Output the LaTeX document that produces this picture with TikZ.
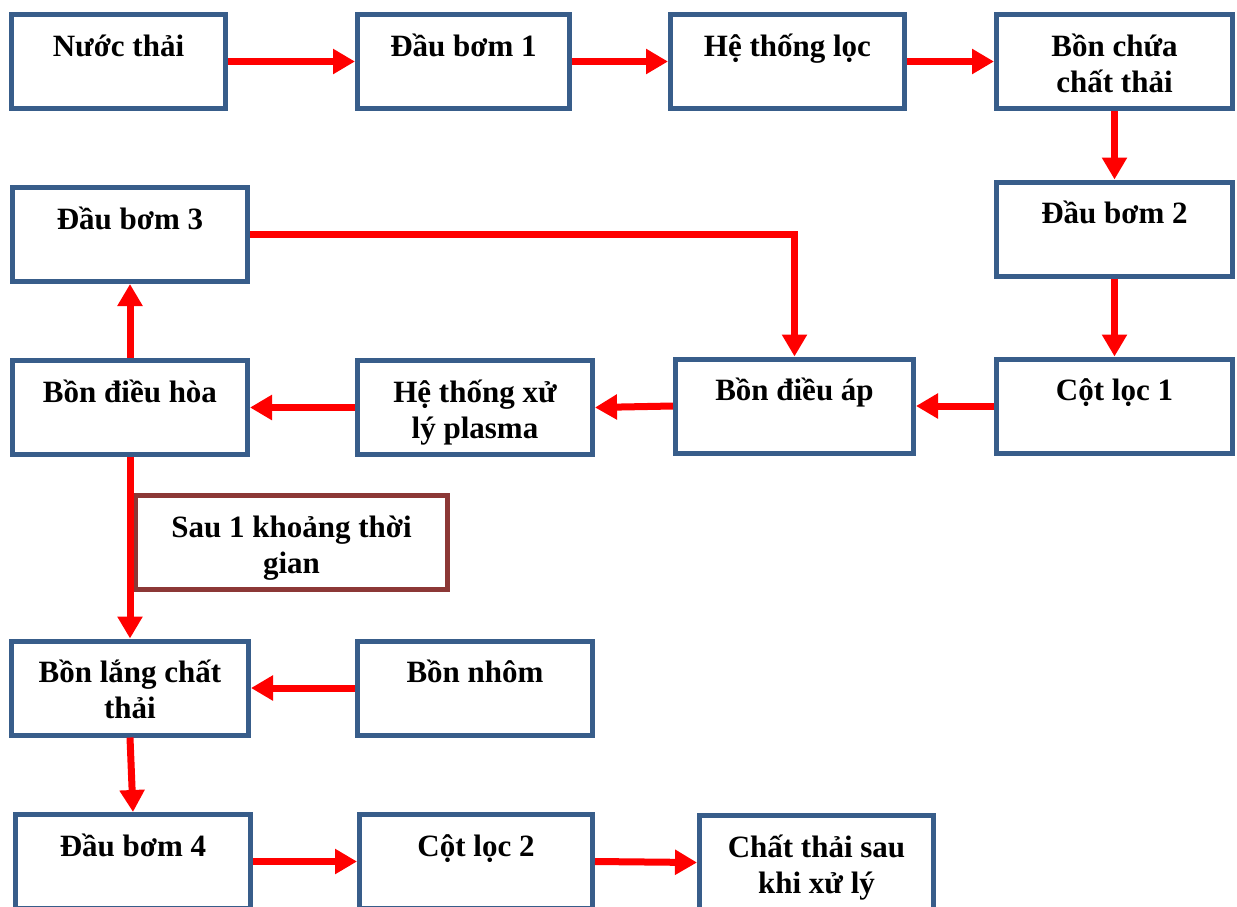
\documentclass[tikz,border=0pt]{standalone}
\usepackage{fontspec}
\setmainfont{Liberation Serif}
\usetikzlibrary{arrows.meta}
\definecolor{boxblue}{HTML}{385D8A}
\definecolor{boxbrown}{HTML}{8C3836}
\definecolor{arrred}{HTML}{FF0000}
\newcommand{\bx}[2]{\parbox[c][94pt][t]{#1}{\centering\rule{0pt}{41.5pt}#2\par}}
\tikzset{
  box/.style={draw=boxblue, line width=5pt, inner sep=0pt, outer sep=2.5pt, fill=white,
    font=\bfseries\fontsize{31}{36}\selectfont},
  notebox/.style={box, draw=boxbrown},
  arr/.style={draw=arrred, line width=7pt, -{Triangle[length=22pt,width=24pt]}}
}
\begin{document}
\begin{tikzpicture}[x=1pt,y=-1pt]
\useasboundingbox (0,0) rectangle (1237,906);
\clip (0,0) rectangle (1237,906);
\node[box] (n1) at (118.5,61.5) {\bx{214pt}{Nước thải}};
\node[box] (n2) at (463.5,61.5) {\bx{212pt}{Đầu bơm 1}};
\node[box] (n3) at (787.5,61.5) {\bx{234pt}{Hệ thống lọc}};
\node[box] (n4) at (1114.5,61.5) {\bx{236pt}{Bồn chứa\\chất thải}};
\node[box] (n5) at (1114.5,229) {\bx{236pt}{Đầu bơm 2}};
\node[box] (n6) at (130,234.5) {\bx{235pt}{Đầu bơm 3}};
\node[box] (n7) at (130,407.5) {\bx{235pt}{Bồn điều hòa}};
\node[box] (n8) at (475,407.5) {\bx{235pt}{Hệ thống xử\\lý plasma}};
\node[box] (n9) at (794.5,406) {\bx{238pt}{Bồn điều áp}};
\node[box] (n10) at (1114.5,406) {\bx{236pt}{Cột lọc 1}};
\node[notebox] (n11) at (291.5,542.5) {\bx{312pt}{Sau 1 khoảng thời\\gian}};
\node[box] (n12) at (130,688) {\bx{237pt}{Bồn lắng chất\\thải}};
\node[box] (n13) at (475,688) {\bx{235pt}{Bồn nhôm}};
\node[box] (n14) at (133,861.5) {\bx{235pt}{Đầu bơm 4}};
\node[box] (n15) at (476,861.5) {\bx{233pt}{Cột lọc 2}};
\node[box] (n16) at (816.5,862.5) {\bx{234pt}{Chất thải sau\\khi xử lý}};
\draw[arr] (n1.east) -- (n2.west);
\draw[arr] (n2.east) -- (n3.west);
\draw[arr] (n3.east) -- (n4.west);
\draw[arr] (n4.south) -- (n5.north);
\draw[arr] (n5.south) -- (n10.north);
\draw[arr] (n10.west) -- (n9.east);
\draw[arr] (n9.west) -- (n8.east);
\draw[arr] (n8.west) -- (n7.east);
\draw[arr] (n7.north) -- (n6.south);
\draw[arr] (n6.east) -| (n9.north);
\draw[arr] (n7.south) -- (n12.north);
\draw[arr] (n13.west) -- (n12.east);
\draw[arr] (n12.south) -- (n14.north);
\draw[arr] (n14.east) -- (n15.west);
\draw[arr] (n15.east) -- (n16.west);
\end{tikzpicture}
\end{document}
